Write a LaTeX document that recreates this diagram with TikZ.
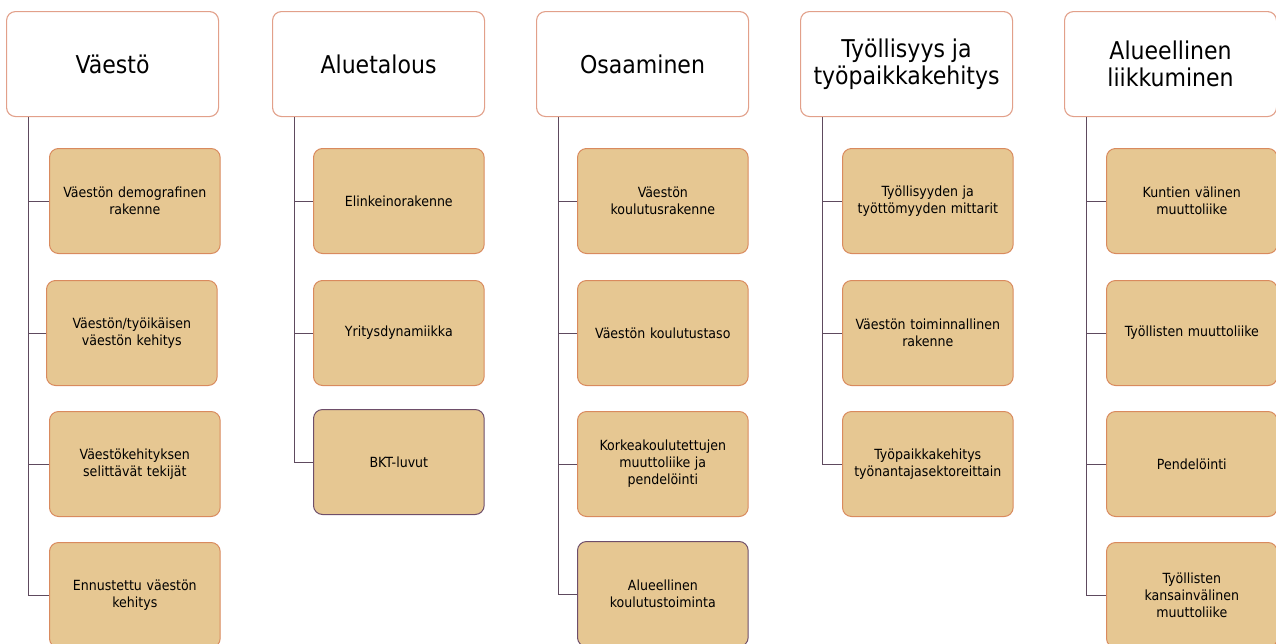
\documentclass[tikz,border=0pt]{standalone}
\usepackage{fontspec}
\setmainfont{DejaVu Sans Condensed}
\definecolor{boxfill}{HTML}{E6C792}
\definecolor{boxedge}{HTML}{D98A5E}
\definecolor{headedge}{HTML}{E2A08A}
\definecolor{darkedge}{HTML}{6E4E6A}
\definecolor{linecol}{HTML}{5E4A5E}
\tikzset{
  x=1pt,y=1pt,
  head/.style={draw=headedge, line width=1.1pt, fill=white, rounded corners=9pt,
    minimum width=212pt, minimum height=105pt, anchor=north west, align=center,
    font=\fontsize{24.5}{27}\selectfont, text=black},
  child/.style={draw=boxedge, line width=1pt, fill=boxfill, rounded corners=9pt,
    minimum width=170pt, minimum height=105pt, anchor=north west, align=center,
    text width=164pt, font=\fontsize{14}{17}\selectfont, text=black},
  childdark/.style={child, draw=darkedge},
  conn/.style={draw=linecol, line width=1pt}
}
\begin{document}
\begin{tikzpicture}
\useasboundingbox (0,0) rectangle (1276,-643);
\clip (0,0) rectangle (1276,-643);
% column 1
\node[head] (h1) at (6,-11) {Väestö};
\node[child] (c11) at (49,-148) {Väestön demografinen\\rakenne};
\node[child] (c12) at (46,-280) {Väestön/työikäisen\\väestön kehitys};
\node[child] (c13) at (49,-411) {Väestökehityksen\\selittävät tekijät};
\node[child] (c14) at (49,-542) {Ennustettu väestön\\kehitys};
% column 2
\node[head] (h2) at (272,-11) {Aluetalous};
\node[child] (c21) at (313,-148) {Elinkeinorakenne};
\node[child] (c22) at (313,-280) {Yritysdynamiikka};
\node[childdark] (c23) at (313,-409) {BKT-luvut};
% column 3
\node[head] (h3) at (536,-11) {Osaaminen};
\node[child] (c31) at (577,-148) {Väestön\\koulutusrakenne};
\node[child] (c32) at (577,-280) {Väestön koulutustaso};
\node[child] (c33) at (577,-411) {Korkeakoulutettujen\\muuttoliike ja\\pendelöinti};
\node[childdark] (c34) at (577,-541) {Alueellinen\\koulutustoiminta};
% column 4
\node[head] (h4) at (800,-11) {Työllisyys ja\\työpaikkakehitys};
\node[child] (c41) at (842,-148) {Työllisyyden ja\\työttömyyden mittarit};
\node[child] (c42) at (842,-280) {Väestön toiminnallinen\\rakenne};
\node[child] (c43) at (842,-411) {Työpaikkakehitys\\työnantajasektoreittain};
% column 5
\node[head] (h5) at (1064,-11) {Alueellinen\\liikkuminen};
\node[child] (c51) at (1106,-148) {Kuntien välinen\\muuttoliike};
\node[child] (c52) at (1106,-280) {Työllisten muuttoliike};
\node[child] (c53) at (1106,-411) {Pendelöinti};
\node[child] (c54) at (1106,-542) {Työllisten\\kansainvälinen\\muuttoliike};
% connectors
\foreach \h/\cs in {h1/{c11,c12,c13,c14}, h2/{c21,c22,c23}, h3/{c31,c32,c33,c34}, h4/{c41,c42,c43}, h5/{c51,c52,c53,c54}}{
  \foreach \c in \cs {
    \draw[conn] ([xshift=22pt]\h.south west) |- (\c.west);
  }
}
\end{tikzpicture}
\end{document}
